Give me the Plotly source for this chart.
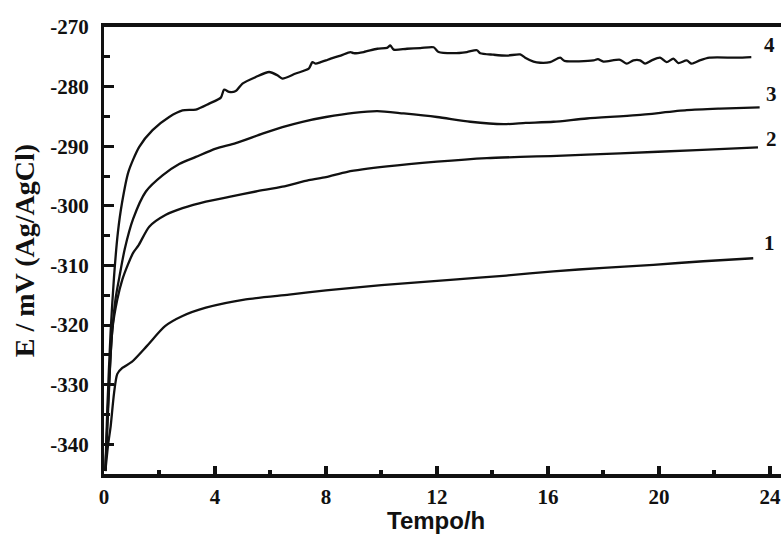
import plotly.graph_objects as go

# Open-circuit potential vs time for four samples
t1 = [0.05, 0.15, 0.24, 0.36, 0.48, 0.66, 1.0, 1.55, 2.2, 2.83, 3.67, 5.11, 6.67, 8.0, 10.0,
      12.6, 14.5, 16.2, 18.0, 19.8, 21.6, 23.4]
e1 = [-344.5, -340, -337, -331.5, -328.2, -327.2, -326.2, -323.5, -320.2, -318.5, -317.1,
      -315.7, -314.9, -314.2, -313.3, -312.4, -311.7, -311.0, -310.4, -309.9, -309.3, -308.8]

t2 = [0.05, 0.15, 0.3, 0.48, 0.66, 0.85, 1.05, 1.25, 1.63, 2.23, 2.83, 3.67, 4.51, 5.47, 6.43,
      7.38, 8.0, 8.77, 10.2, 12.0, 13.8, 15.0, 16.1, 18.6, 21.36, 23.57]
e2 = [-344.5, -334, -320.8, -315.7, -312.4, -310.0, -307.9, -306.6, -303.5, -301.5, -300.4,
      -299.3, -298.5, -297.6, -296.8, -295.7, -295.2, -294.3, -293.4, -292.6, -292.0, -291.8,
      -291.65, -291.2, -290.65, -290.2]

t3 = [0.05, 0.14, 0.28, 0.42, 0.56, 0.75, 1.05, 1.51, 2.11, 2.71, 3.31, 4.03, 4.75, 5.71, 6.43,
      7.15, 8.0, 9.0, 9.85, 10.8, 12.0, 13.2, 14.4, 15.2, 16.2, 17.4, 19.2, 21.0, 22.2, 23.63]
e3 = [-344.5, -334, -322, -315.5, -311.8, -307.2, -302.2, -297.6, -294.9, -293.0, -291.8,
      -290.4, -289.5, -287.9, -286.8, -285.9, -285.1, -284.4, -284.1, -284.5, -285.1, -285.9,
      -286.3, -286.1, -285.9, -285.35, -284.8, -283.96, -283.7, -283.5]

t4 = [0.05, 0.12, 0.24, 0.36, 0.5, 0.65, 0.88, 1.27, 1.75, 2.35, 2.83, 3.31, 3.79, 4.21, 4.33,
      4.51, 4.75, 4.99, 5.47, 5.95, 6.25, 6.43, 6.91, 7.38, 7.51, 7.63, 7.81, 8.0, 8.17, 8.53,
      8.88, 9.0, 9.36, 9.85, 10.2, 10.32, 10.44, 10.92, 11.4, 11.88, 12.06, 12.6, 13.08, 13.44,
      13.56, 14.04, 14.52, 15.0, 15.18, 15.48, 15.72, 16.08, 16.44, 16.6, 17.64, 17.8, 18.0,
      18.6, 18.84, 19.08, 19.32, 19.5, 19.74, 20.04, 20.28, 20.52, 20.7, 21.0, 21.18, 21.47,
      21.83, 22.8, 23.33]
e4 = [-344.5, -334, -321, -312, -304.5, -299.5, -294.3, -290.1, -287.3, -285.1, -284.0,
      -283.85, -282.85, -281.85, -280.5, -280.9, -280.75, -279.5, -278.4, -277.55, -278.1,
      -278.65, -277.8, -277.0, -275.9, -276.15, -275.9, -275.6, -275.3, -274.8, -274.2, -274.4,
      -274.2, -273.65, -273.5, -273.1, -273.8, -273.65, -273.55, -273.4, -274.2, -274.4,
      -274.2, -273.9, -274.4, -274.65, -274.8, -274.6, -275.15, -275.8, -276.0, -275.9,
      -275.15, -275.7, -275.6, -275.4, -275.8, -275.5, -276.15, -275.6, -275.6, -276.15,
      -275.6, -275.15, -275.9, -275.3, -276.05, -275.6, -276.15, -275.6, -275.15, -275.15,
      -275.05]

curve_names = ["1", "2", "3", "4"]
label_x = [24.0, 24.07, 24.07, 24.0]
label_y = [-306.2, -288.8, -281.2, -273.0]

x_ticks = [0, 4, 8, 12, 16, 20, 24]
x_minor = [2, 6, 10, 14, 18, 22]
y_ticks = [-340, -330, -320, -310, -300, -290, -280, -270]
y_minor = [-345, -335, -325, -315, -305, -295, -285, -275]

serif = "Liberation Serif"
sans = "Liberation Sans"
ink = "#111111"

fig = go.Figure()
for tx, ey, name in zip([t1, t2, t3, t4], [e1, e2, e3, e4], curve_names):
    fig.add_trace(go.Scatter(x=tx, y=ey, mode="lines", name=name,
                             line=dict(color=ink, width=2.3, shape="spline", smoothing=0.7),
                             showlegend=False))

for name, lx, ly in zip(curve_names, label_x, label_y):
    fig.add_annotation(x=lx, y=ly, xref="x", yref="y", text=name, showarrow=False,
                       font=dict(family=serif, size=21, color=ink, weight="bold"))

fig.add_annotation(x=-0.117, y=0.5, xref="paper", yref="paper", text="E / mV (Ag/AgCl)",
                   textangle=-90, showarrow=False, xanchor="center", yanchor="middle",
                   font=dict(family=serif, size=28, color=ink, weight="bold"))
fig.add_annotation(x=0.49, y=-0.104, xref="paper", yref="paper", text="Tempo/h",
                   showarrow=False, xanchor="center", yanchor="middle",
                   font=dict(family=sans, size=24, color=ink, weight="bold"))

fig.update_xaxes(range=[0, 24.4], tickvals=x_ticks, ticktext=[str(v) for v in x_ticks],
                 ticks="inside", ticklen=8, tickwidth=4, tickcolor=ink,
                 minor=dict(tickvals=x_minor, ticks="inside", ticklen=4, tickwidth=4,
                            tickcolor=ink),
                 showline=True, linewidth=4, linecolor=ink, mirror=True,
                 showgrid=False, zeroline=False, ticklabelstandoff=1,
                 tickfont=dict(family=serif, size=21, color=ink, weight="bold"))
fig.update_yaxes(range=[-345, -270], tickvals=y_ticks, ticktext=[str(v) for v in y_ticks],
                 ticks="inside", ticklen=10, tickwidth=2.5, tickcolor=ink,
                 minor=dict(tickvals=y_minor, ticks="inside", ticklen=6, tickwidth=2.5,
                            tickcolor=ink),
                 showline=True, linewidth=3, linecolor=ink, mirror=False,
                 showgrid=False, zeroline=False, ticklabelstandoff=8,
                 tickfont=dict(family=serif, size=21, color=ink, weight="bold"))

fig.update_layout(width=781, height=534, margin=dict(l=104, r=0, t=27, b=60),
                  paper_bgcolor="white", plot_bgcolor="white")

fig.write_html("out.html")
